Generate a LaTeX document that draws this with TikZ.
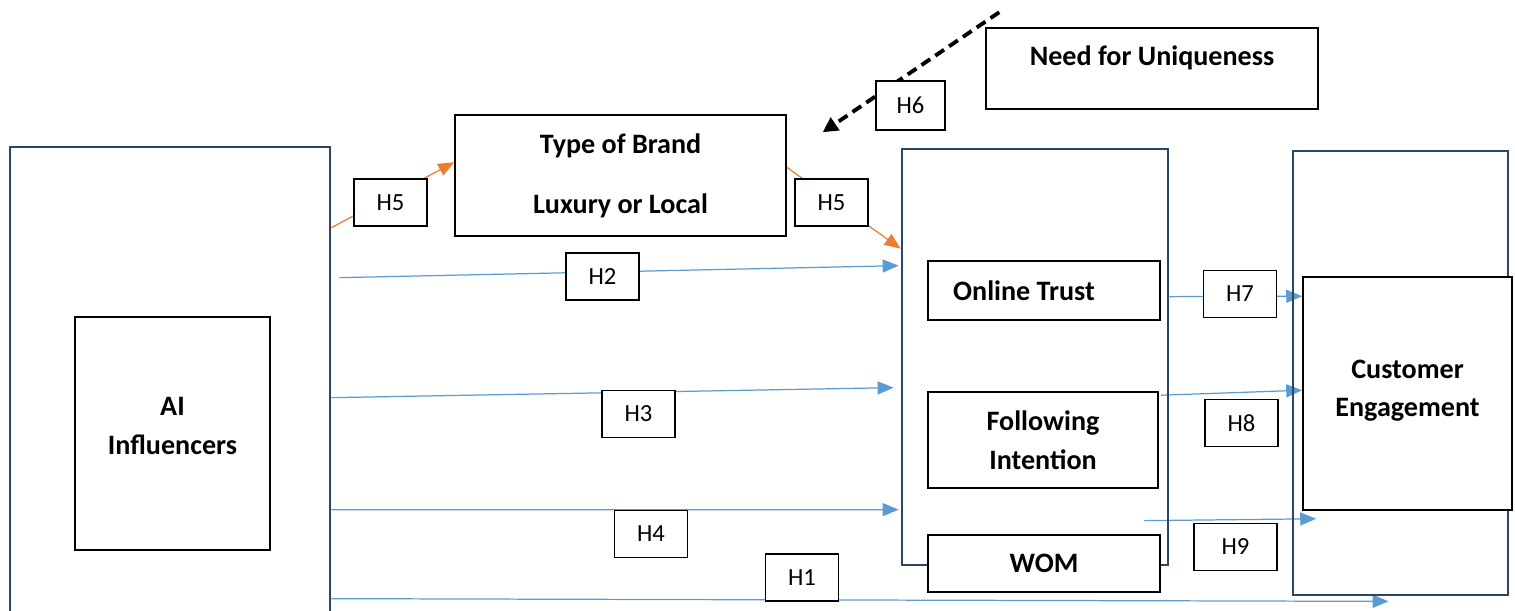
\documentclass[tikz,border=0pt]{standalone}
\usepackage{fontspec}
\setmainfont{Carlito}
\usetikzlibrary{arrows.meta,positioning,calc,backgrounds}

\definecolor{frameblue}{HTML}{2C4763}
\definecolor{linkblue}{HTML}{5B9BD5}
\definecolor{linkorange}{HTML}{ED7D31}

\begin{document}
\begin{tikzpicture}[
    x=0.02cm, y=-0.02cm,
    frame/.style={rectangle, draw=frameblue, line width=1.6pt},
    box/.style={rectangle, draw, line width=0.9pt, fill=white, text centered, align=center, font=\fontsize{16}{22}\selectfont\bfseries},
    hyp/.style={rectangle, draw, line width=0.9pt, fill=white, minimum width=1.46cm, minimum height=0.94cm, font=\fontsize{14}{16}\selectfont},
    bluearrow/.style={draw=linkblue, line width=0.7pt, -{Triangle[length=0.32cm, width=0.26cm]}},
    orangearrow/.style={draw=linkorange, line width=0.7pt, -{Triangle[length=0.32cm, width=0.26cm]}},
    dasharrow/.style={draw, line width=2.2pt, dash pattern=on 6pt off 3.5pt, -{Triangle[length=0.3cm, width=0.3cm]}}
]
    \useasboundingbox (0,0) rectangle (1515,610);

    % outer frames
    \node[frame, minimum width=6.4cm, minimum height=9.5cm] (aiouter) at (170,384.5) {};
    \node[frame, minimum width=5.32cm, minimum height=8.32cm] (midouter) at (1035,357) {};
    \node[frame, minimum width=4.3cm, minimum height=8.88cm] (rightouter) at (1400.5,373) {};

    % constructs
    \node[box, minimum width=3.9cm, minimum height=4.66cm, text depth=9pt] (ai) at (172.5,433.5) {AI\\Influencers};
    \node[box, minimum width=6.62cm, minimum height=2.42cm] (brand) at (620.5,175.5) {Type of Brand\\[12pt]Luxury or Local};
    \node[box, minimum width=6.64cm, minimum height=1.62cm, text depth=15pt] (unique) at (1152,68.5) {Need for Uniqueness};
    \node[box, minimum width=4.64cm, minimum height=1.18cm] (trust) at (1044,290.5) {Online Trust\hspace{0.8cm}};
    \node[box, minimum width=4.6cm, minimum height=1.92cm] (follow) at (1043,440) {Following\\Intention};
    \node[box, minimum width=4.64cm, minimum height=1.14cm] (wom) at (1044,563.5) {WOM};
    \node[box, minimum width=4.18cm, minimum height=4.66cm, text depth=6pt] (cust) at (1407.5,393.5) {Customer\\Engagement};

    % hypotheses
    \node[hyp] (h5a) at (390.5,202.5) {H5};
    \node[hyp] (h5b) at (831.5,202.5) {H5};
    \node[hyp, minimum width=1.38cm, minimum height=0.98cm] (h6) at (910.5,105.5) {H6};
    \node[hyp] (h2) at (602.5,276.5) {H2};
    \node[hyp] (h3) at (638.5,414) {H3};
    \node[hyp] (h4) at (651,534) {H4};
    \node[hyp] (h1) at (802,577.5) {H1};
    \node[hyp] (h7) at (1240,294) {H7};
    \node[hyp] (h8) at (1241.5,423) {H8};
    \node[hyp, minimum width=1.66cm] (h9) at (1235.5,547) {H9};

    \begin{pgfonlayer}{background}
    \draw[orangearrow] ($(aiouter.north east)+(0,82)$) -- ($(brand.north west)+(0,48)$);
    \draw[orangearrow] ($(brand.north east)+(0,53)$) -- ($(midouter.north west)+(0,101)$);
    \draw[bluearrow] ($(aiouter.north east)+(8,132)$) -- ($(midouter.north west)+(-2,118)$);
    \draw[bluearrow] ($(aiouter.north east)+(0,252)$) -- ($(midouter.north west)+(-7,240)$);
    \draw[bluearrow] ($(aiouter.north east)+(0,364)$) -- ($(midouter.north west)+(-2,362)$);
    \draw[bluearrow] ($(aiouter.north east)+(0,453)$) -- ($(rightouter.south west)+(97,5)$);
    \draw[bluearrow] ($(midouter.north east)+(0,149)$) -- ($(cust.north west)+(0,20)$);
    \draw[bluearrow] ($(follow.north east)+(2,4)$) -- ($(cust.north west)+(0,114)$);
    \draw[bluearrow] ($(midouter.north east)+(-25,373)$) -- ($(cust.south west)+(14,8)$);
    \draw[dasharrow] ($(unique.north west)+(14,-15)$) -- ($(brand.north east)+(36,18)$);
    \end{pgfonlayer}
\end{tikzpicture}
\end{document}
